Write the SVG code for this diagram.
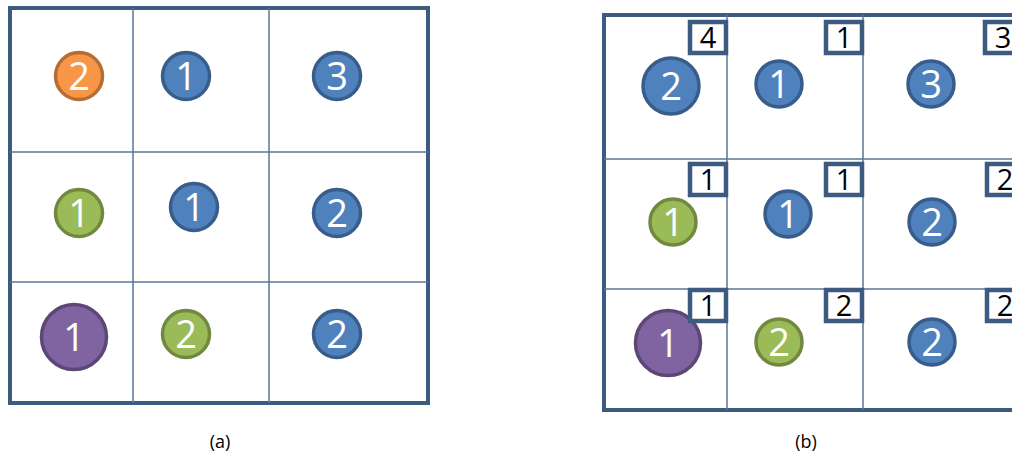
<svg xmlns="http://www.w3.org/2000/svg" width="1012" height="456" viewBox="0 0 1012 456">
<style>
.frame{fill:#fff;stroke:#3d5a80;stroke-width:4}
.grid{stroke:#5a7696;stroke-width:1.5;fill:none}
.blue{fill:#4f81bd;stroke:#385d8a;stroke-width:3.5}
.orange{fill:#f79646;stroke:#b66d31;stroke-width:3.5}
.green{fill:#9bbb59;stroke:#71893f;stroke-width:3.5}
.purple{fill:#8064a2;stroke:#5c4776;stroke-width:3.5}
.num{font-family:"Open Sans","Liberation Sans",sans-serif;font-size:38px;fill:#fff;text-anchor:middle}
.box{fill:#fff;stroke:#3d5a80;stroke-width:4.5}
.cnt{font-family:"Open Sans","Liberation Sans",sans-serif;font-size:29px;fill:#000;text-anchor:middle}
.lbl{font-family:"Open Sans","Liberation Sans",sans-serif;font-size:18px;fill:#000;text-anchor:middle}
</style>
<rect width="1012" height="456" fill="#fff"/>
<g id="panel-a">
<rect class="frame" x="10" y="8" width="418" height="395"/>
<g class="grid"><line x1="133" y1="8" x2="133" y2="403"/><line x1="269" y1="8" x2="269" y2="403"/><line x1="10" y1="152" x2="428" y2="152"/><line x1="10" y1="282" x2="428" y2="282"/></g>
</g>
<g id="a-c1"><circle class="orange" cx="79" cy="76" r="23.5"/><text class="num" x="79" y="90">2</text></g>
<g id="a-c2"><circle class="blue" cx="186" cy="76" r="23.5"/><text class="num" x="186" y="90">1</text></g>
<g id="a-c3"><circle class="blue" cx="337" cy="76" r="23.5"/><text class="num" x="337" y="90">3</text></g>
<g id="a-c4"><circle class="green" cx="79" cy="213" r="23.5"/><text class="num" x="79" y="227">1</text></g>
<g id="a-c5"><circle class="blue" cx="194" cy="207" r="23.5"/><text class="num" x="194" y="221">1</text></g>
<g id="a-c6"><circle class="blue" cx="337" cy="213" r="23.5"/><text class="num" x="337" y="227">2</text></g>
<g id="a-c7"><circle class="purple" cx="74" cy="337" r="32.5"/><text class="num" x="74" y="351">1</text></g>
<g id="a-c8"><circle class="green" cx="186" cy="334" r="23.5"/><text class="num" x="186" y="348">2</text></g>
<g id="a-c9"><circle class="blue" cx="337" cy="334" r="23.5"/><text class="num" x="337" y="348">2</text></g>
<text id="label-a" class="lbl" x="220" y="448">(a)</text>
<g id="panel-b">
<rect class="frame" x="604" y="15" width="420" height="395"/>
<g class="grid"><line x1="727" y1="15" x2="727" y2="410"/><line x1="863" y1="15" x2="863" y2="410"/><line x1="604" y1="159" x2="1012" y2="159"/><line x1="604" y1="289" x2="1012" y2="289"/></g>
</g>
<g id="b-c1"><circle class="blue" cx="671" cy="86" r="28"/><text class="num" x="671" y="100">2</text><rect class="box" x="690" y="22" width="36" height="31"/><text class="cnt" x="708" y="48">4</text></g>
<g id="b-c2"><circle class="blue" cx="779" cy="84" r="23"/><text class="num" x="779" y="98">1</text><rect class="box" x="826" y="22" width="36" height="31"/><text class="cnt" x="844" y="48">1</text></g>
<g id="b-c3"><circle class="blue" cx="931" cy="84" r="23"/><text class="num" x="931" y="98">3</text><rect class="box" x="985" y="22" width="36" height="31"/><text class="cnt" x="1003" y="48">3</text></g>
<g id="b-c4"><circle class="green" cx="673" cy="222" r="23"/><text class="num" x="673" y="236">1</text><rect class="box" x="690" y="164" width="36" height="31"/><text class="cnt" x="708" y="190">1</text></g>
<g id="b-c5"><circle class="blue" cx="788" cy="214" r="23"/><text class="num" x="788" y="228">1</text><rect class="box" x="826" y="164" width="36" height="31"/><text class="cnt" x="844" y="190">1</text></g>
<g id="b-c6"><circle class="blue" cx="932" cy="222" r="23"/><text class="num" x="932" y="236">2</text><rect class="box" x="987" y="164" width="36" height="31"/><text class="cnt" x="1005" y="190">2</text></g>
<g id="b-c7"><circle class="purple" cx="668" cy="343" r="32.5"/><text class="num" x="668" y="357">1</text><rect class="box" x="690" y="290" width="36" height="31"/><text class="cnt" x="708" y="316">1</text></g>
<g id="b-c8"><circle class="green" cx="779" cy="342" r="23"/><text class="num" x="779" y="356">2</text><rect class="box" x="826" y="290" width="36" height="31"/><text class="cnt" x="844" y="316">2</text></g>
<g id="b-c9"><circle class="blue" cx="932" cy="342" r="23"/><text class="num" x="932" y="356">2</text><rect class="box" x="987" y="290" width="36" height="31"/><text class="cnt" x="1005" y="316">2</text></g>
<text id="label-b" class="lbl" x="806" y="448">(b)</text>
</svg>
